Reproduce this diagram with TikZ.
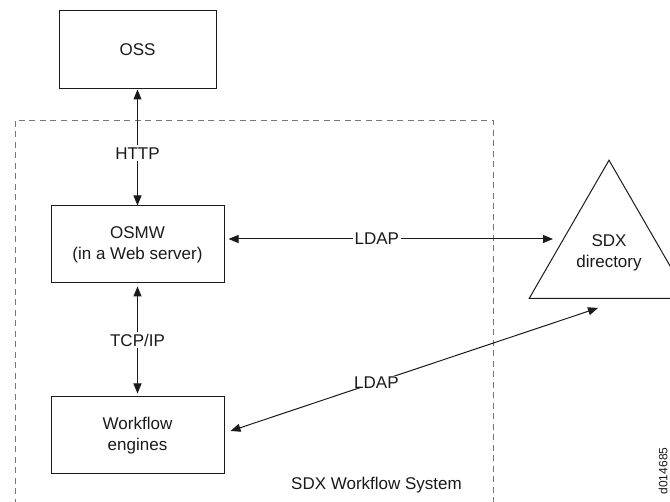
\documentclass[tikz,border=0pt]{standalone}
\usepackage{fontspec}
\setmainfont{Liberation Sans}
\usetikzlibrary{arrows.meta,shapes.geometric}
\definecolor{ink}{HTML}{1A1A1A}
\definecolor{frame}{HTML}{777777}
\newcommand\diagfont{\fontsize{17}{21}\selectfont}
\begin{document}
\begin{tikzpicture}[x=1pt,y=-1pt,
  every node/.style={text=ink},
  box/.style={draw=ink, line width=1pt, inner sep=0pt, align=center, font=\diagfont},
  link/.style={draw=ink, line width=1pt, {Triangle[length=10pt,width=8pt]}-{Triangle[length=10pt,width=8pt]}},
  tag/.style={fill=white, font=\diagfont, inner sep=2pt},
  system/.style={draw=frame, line width=1pt, dash pattern=on 6pt off 4.5pt}
]
\useasboundingbox (0,0) rectangle (670,502);
\clip (0,0) rectangle (670,502);

% workflow system boundary (runs past the lower edge)
\draw[system] (15,121) rectangle (493,530);

% components
\node[box, minimum width=157pt, minimum height=78pt] (oss) at (137.5,50) {OSS};
\node[box, minimum width=173pt, minimum height=77pt] (osmw) at (137.5,244.5) {OSMW\\(in a Web server)};
\node[box, minimum width=173pt, minimum height=77pt] (wf) at (137.5,435.5) {Workflow\\engines};
\node[draw=ink, line width=1pt, regular polygon, regular polygon sides=3,
      minimum size=166.3pt, inner sep=0pt, align=center, font=\diagfont] (dir) at (609,252.4) {SDX\\directory};

% free ends of the directory links
\coordinate (dirL) at (553,239);
\coordinate (dirB) at (598,308);

% connectors
\draw[link] (oss.south) -- node[tag, pos=0.55] {HTTP} (osmw.north);
\draw[link, shorten <=3pt, shorten >=3pt] (osmw.south) -- node[tag, pos=0.5] {TCP/IP} (wf.north);
\draw[link] ([xshift=4pt,yshift=5.5pt]osmw.east) -- node[tag, pos=0.457, inner xsep=1.5pt] {LDAP} (dirL);
\draw[link] ([xshift=6pt,yshift=4.5pt]wf.east) -- node[tag, pos=0.397, inner sep=0pt] {LDAP} (dirB);

% captions
\node[font=\diagfont, anchor=base] (sys) at (376.5,490) {SDX Workflow System};
\node[font=\fontsize{12}{12}\selectfont, rotate=90] (fig) at (663,471) {d014685};
\end{tikzpicture}
\end{document}
